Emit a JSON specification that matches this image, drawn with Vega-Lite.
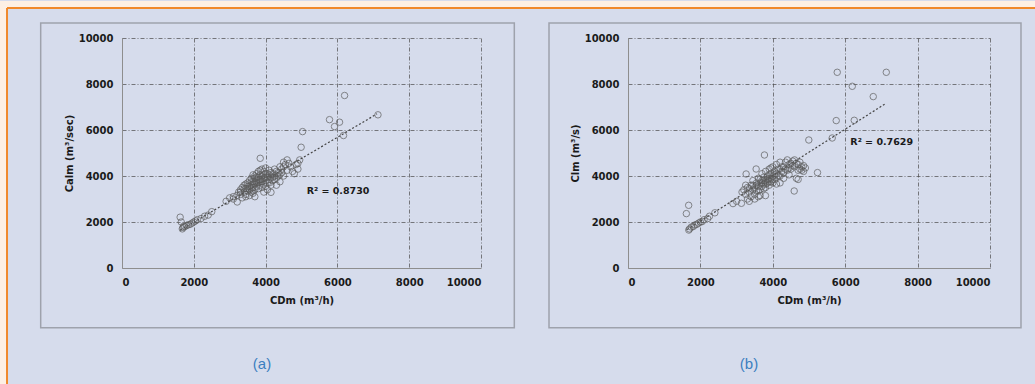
{
  "$schema": "https://vega.github.io/schema/vega-lite/v6.json",
  "background": "#d6dcec",
  "padding": 0,
  "spacing": 147,
  "bounds": "flush",
  "datasets": {
    "a": [
      {"x":1620,"y":2210},{"x":1650,"y":2000},{"x":1680,"y":1700},{"x":1700,"y":1760},{"x":1720,"y":1820},{"x":1750,"y":1800},{"x":1800,"y":1850},{"x":1850,"y":1880},{"x":1900,"y":1900},{"x":1950,"y":1950},{"x":2000,"y":2000},{"x":2050,"y":2050},{"x":2100,"y":2100},{"x":2200,"y":2150},{"x":2300,"y":2250},{"x":2400,"y":2300},{"x":2500,"y":2450},
      {"x":2900,"y":2900},{"x":3000,"y":3050},{"x":3100,"y":3000},{"x":3210,"y":2870},{"x":3100,"y":3100},
      {"x":3200,"y":3150},{"x":3250,"y":3300},{"x":3300,"y":3400},{"x":3300,"y":3200},{"x":3350,"y":3500},{"x":3400,"y":3300},{"x":3400,"y":3600},{"x":3450,"y":3450},{"x":3450,"y":3200},{"x":3500,"y":3550},{"x":3500,"y":3350},{"x":3500,"y":3700},{"x":3550,"y":3400},{"x":3550,"y":3800},{"x":3600,"y":3600},{"x":3600,"y":3300},{"x":3600,"y":3900},{"x":3650,"y":3500},{"x":3650,"y":3750},{"x":3650,"y":4050},{"x":3700,"y":3650},{"x":3700,"y":3400},{"x":3700,"y":3900},{"x":3750,"y":3800},{"x":3750,"y":3550},{"x":3750,"y":4100},{"x":3800,"y":3700},{"x":3800,"y":3950},{"x":3800,"y":3450},{"x":3800,"y":4200},{"x":3850,"y":3850},{"x":3850,"y":3600},{"x":3850,"y":4050},{"x":3900,"y":3750},{"x":3900,"y":4000},{"x":3900,"y":3500},{"x":3900,"y":4300},{"x":3950,"y":3900},{"x":3950,"y":3650},{"x":4000,"y":4100},{"x":4000,"y":3800},{"x":4000,"y":3550},{"x":4000,"y":4350},{"x":4050,"y":3950},{"x":4050,"y":3700},{"x":4100,"y":4050},{"x":4100,"y":3850},{"x":4100,"y":4250},{"x":4150,"y":3950},{"x":4150,"y":3600},{"x":4200,"y":4100},{"x":4200,"y":3800},{"x":4250,"y":4000},{"x":4250,"y":4300},{"x":4300,"y":3900},{"x":4350,"y":4150},{"x":4400,"y":3750},{"x":4400,"y":4050},{"x":4450,"y":4300},{"x":4500,"y":4000},{"x":4550,"y":4500},{"x":4600,"y":4250},{"x":3350,"y":3050},{"x":3450,"y":3100},{"x":3550,"y":3150},{"x":3650,"y":3250},{"x":3700,"y":3100},{"x":4050,"y":3400},{"x":3950,"y":3300},
      {"x":3550,"y":3550},{"x":3600,"y":3750},{"x":3650,"y":3650},{"x":3700,"y":3750},{"x":3750,"y":3700},{"x":3800,"y":3850},{"x":3850,"y":3750},{"x":3900,"y":3850},{"x":3950,"y":4050},{"x":4000,"y":3950},{"x":4050,"y":4100},{"x":3750,"y":3950},{"x":3700,"y":4000},{"x":3600,"y":3450},{"x":3500,"y":3450},{"x":3450,"y":3650},{"x":4150,"y":4150},{"x":4200,"y":3950},{"x":4300,"y":4200},{"x":4350,"y":4000},{"x":4450,"y":4150},{"x":3850,"y":4250},{"x":3950,"y":4200},{"x":4100,"y":3700},{"x":3650,"y":3350},{"x":3400,"y":3450},{"x":3300,"y":3300},{"x":4250,"y":3850},{"x":4500,"y":4400},{"x":4650,"y":4550},
      {"x":3850,"y":4770},{"x":4150,"y":3290},{"x":4300,"y":3600},
      {"x":4400,"y":4400},{"x":4500,"y":4600},{"x":4600,"y":4700},{"x":4700,"y":4400},{"x":4800,"y":4100},{"x":4850,"y":4500},{"x":4900,"y":4300},{"x":4950,"y":4700},{"x":4750,"y":4200},{"x":4900,"y":4550},
      {"x":4990,"y":5250},{"x":5030,"y":5930},{"x":5780,"y":6450},{"x":5920,"y":6150},{"x":6060,"y":6340},{"x":6200,"y":7500},{"x":6170,"y":5760},{"x":7130,"y":6660}
    ],
    "fitA": [{"x":1616,"y":1636},{"x":7103,"y":6701}],
    "b": [
      {"x":1676,"y":2726},{"x":1612,"y":2365},
      {"x":1680,"y":1650},{"x":1700,"y":1700},{"x":1750,"y":1780},{"x":1800,"y":1800},{"x":1850,"y":1870},{"x":1900,"y":1900},{"x":1950,"y":1950},{"x":2000,"y":2000},{"x":2050,"y":2020},{"x":2100,"y":2100},{"x":2200,"y":2150},{"x":2250,"y":2250},{"x":2400,"y":2400},
      {"x":2900,"y":2800},{"x":3000,"y":2900},{"x":3133,"y":2813},{"x":3263,"y":4087},{"x":3540,"y":4304},{"x":3797,"y":3148},
      {"x":3200,"y":3400},{"x":3250,"y":3200},{"x":3300,"y":3500},{"x":3300,"y":3000},{"x":3350,"y":3300},{"x":3400,"y":3600},{"x":3400,"y":3100},{"x":3450,"y":3400},{"x":3450,"y":3800},{"x":3500,"y":3500},{"x":3500,"y":3200},{"x":3550,"y":3700},{"x":3550,"y":3350},{"x":3600,"y":3900},{"x":3600,"y":3550},{"x":3600,"y":3100},{"x":3650,"y":3700},{"x":3650,"y":3400},{"x":3700,"y":3800},{"x":3700,"y":3550},{"x":3700,"y":4100},{"x":3750,"y":3650},{"x":3750,"y":3950},{"x":3800,"y":3800},{"x":3800,"y":3500},{"x":3800,"y":4200},{"x":3850,"y":3700},{"x":3850,"y":4000},{"x":3900,"y":3900},{"x":3900,"y":3600},{"x":3900,"y":4300},{"x":3950,"y":4100},{"x":3950,"y":3750},{"x":4000,"y":4000},{"x":4000,"y":3700},{"x":4000,"y":4400},{"x":4050,"y":4200},{"x":4050,"y":3850},{"x":4100,"y":4100},{"x":4100,"y":4500},{"x":4100,"y":3650},{"x":4150,"y":4300},{"x":4200,"y":4000},{"x":4200,"y":4600},{"x":4250,"y":4200},{"x":4300,"y":4400},{"x":4300,"y":3900},{"x":4350,"y":4600},{"x":4400,"y":4250},{"x":4450,"y":4500},{"x":4500,"y":4300},{"x":4550,"y":4650},{"x":4600,"y":4400},{"x":4650,"y":3900},{"x":4700,"y":4500},{"x":4750,"y":4300},{"x":4800,"y":4400},{"x":4850,"y":4200},{"x":4900,"y":4350},{"x":4600,"y":4700},{"x":4400,"y":4700},{"x":3350,"y":2900},{"x":3500,"y":3000},{"x":3650,"y":3150},{"x":3250,"y":3600},{"x":3150,"y":3300},{"x":4200,"y":3700},{"x":4450,"y":4050},{"x":4700,"y":3850},
      {"x":3550,"y":3600},{"x":3650,"y":3850},{"x":3700,"y":3700},{"x":3750,"y":3800},{"x":3800,"y":3650},{"x":3850,"y":3850},{"x":3900,"y":4050},{"x":3950,"y":3900},{"x":4000,"y":3850},{"x":4050,"y":4050},{"x":4150,"y":4000},{"x":4250,"y":4400},{"x":4350,"y":4300},{"x":4450,"y":4350},{"x":4550,"y":4450},{"x":4650,"y":4550},{"x":4750,"y":4600},{"x":4800,"y":4250},{"x":3450,"y":3600},{"x":3350,"y":3450},{"x":3600,"y":3350},{"x":3750,"y":3450},{"x":3900,"y":3750},{"x":4100,"y":3950},{"x":4300,"y":4150},{"x":4500,"y":4550},{"x":4700,"y":4250},{"x":4850,"y":4450},{"x":4200,"y":4300},{"x":3950,"y":4350},
      {"x":3769,"y":4913},{"x":4591,"y":3348},{"x":5235,"y":4148},{"x":4995,"y":5565},{"x":5641,"y":5652},{"x":5752,"y":6409},{"x":6250,"y":6422},{"x":5780,"y":8509},{"x":7135,"y":8509},{"x":6195,"y":7900},{"x":6775,"y":7452}
    ],
    "fitB": [{"x":1631,"y":1670},{"x":7097,"y":7130}]
  },
  "hconcat": [
    {
      "width": 359,
      "height": 230,
      "layer": [
        {
          "data": {"values": [{}]},
          "mark": {"type": "rect", "fill": "#fdf0e4", "strokeWidth": 0},
          "encoding": {
            "x": {"datum": -3398, "type": "quantitative", "scale": {"domain": [0, 10000], "nice": false, "zero": false},
                  "axis": {"title": "CDm (m³/h)", "values": [0, 2000, 4000, 6000, 8000, 10000], "format": "d"}},
            "x2": {"datum": 25432},
            "y": {"datum": 11609, "type": "quantitative", "scale": {"domain": [0, 10000], "nice": false, "zero": false},
                  "axis": {"title": "Calm (m³/sec)", "values": [0, 2000, 4000, 6000, 8000, 10000], "format": "d"}},
            "y2": {"datum": 11304}
          }
        },
        {
          "data": {"values": [{}]},
          "mark": {"type": "rect", "fill": "#fdf0e4", "strokeWidth": 0},
          "encoding": {
            "x": {"datum": -3398, "type": "quantitative"},
            "x2": {"datum": -3203},
            "y": {"datum": 11304, "type": "quantitative"},
            "y2": {"datum": -5087}
          }
        },
        {
          "data": {"values": [{}]},
          "mark": {"type": "rule", "color": "#f0892b", "strokeWidth": 2},
          "encoding": {
            "x": {"datum": -3203, "type": "quantitative"},
            "x2": {"datum": 25432},
            "y": {"datum": 11304, "type": "quantitative"}
          }
        },
        {
          "data": {"values": [{}]},
          "mark": {"type": "rule", "color": "#f0892b", "strokeWidth": 2},
          "encoding": {
            "x": {"datum": -3203, "type": "quantitative"},
            "y": {"datum": 11304, "type": "quantitative"},
            "y2": {"datum": -5087}
          }
        },
        {
          "data": {"values": [{}]},
          "mark": {"type": "rect", "fill": "transparent", "stroke": "#9ea2ac", "strokeWidth": 1.5},
          "encoding": {
            "x": {"datum": -2265, "type": "quantitative"},
            "x2": {"datum": 10928},
            "y": {"datum": 10652, "type": "quantitative"},
            "y2": {"datum": -2596}
          }
        },
        {
          "data": {"name": "fitA"},
          "mark": {"type": "line", "color": "#444444", "strokeWidth": 1.2, "strokeDash": [2, 2]},
          "encoding": {
            "x": {"field": "x", "type": "quantitative"},
            "y": {"field": "y", "type": "quantitative"}
          }
        },
        {
          "data": {"name": "a"},
          "mark": {"type": "point", "shape": "circle", "filled": false, "stroke": "#5c5c5c", "strokeWidth": 1, "size": 42},
          "encoding": {
            "x": {"field": "x", "type": "quantitative"},
            "y": {"field": "y", "type": "quantitative"}
          }
        },
        {
          "data": {"values": [{}]},
          "mark": {"type": "text", "font": "DejaVu Sans", "fontWeight": "bold", "fontSize": 9.5, "color": "#1a1a1a"},
          "encoding": {
            "x": {"datum": 6017, "type": "quantitative"},
            "y": {"datum": 3348, "type": "quantitative"},
            "text": {"value": "R² = 0.8730"}
          }
        },
        {
          "data": {"values": [{}]},
          "mark": {"type": "text", "font": "Liberation Sans", "fontSize": 15, "color": "#3b7fc0"},
          "encoding": {
            "x": {"datum": 3900, "type": "quantitative"},
            "y": {"datum": -4174, "type": "quantitative"},
            "text": {"value": "(a)"}
          }
        }
      ]
    },
    {
      "width": 362,
      "height": 230,
      "layer": [
        {
          "data": {"values": [{}]},
          "mark": {"type": "rect", "fill": "transparent", "stroke": "#9ea2ac", "strokeWidth": 1.5},
          "encoding": {
            "x": {"datum": -2182, "type": "quantitative", "scale": {"domain": [0, 10000], "nice": false, "zero": false},
                  "axis": {"title": "CDm (m³/h)", "values": [0, 2000, 4000, 6000, 8000, 10000], "format": "d"}},
            "x2": {"datum": 10856},
            "y": {"datum": 10652, "type": "quantitative", "scale": {"domain": [0, 10000], "nice": false, "zero": false},
                  "axis": {"title": "Clm (m³/s)", "values": [0, 2000, 4000, 6000, 8000, 10000], "format": "d"}},
            "y2": {"datum": -2596}
          }
        },
        {
          "data": {"name": "fitB"},
          "mark": {"type": "line", "color": "#444444", "strokeWidth": 1.2, "strokeDash": [2, 2]},
          "encoding": {
            "x": {"field": "x", "type": "quantitative"},
            "y": {"field": "y", "type": "quantitative"}
          }
        },
        {
          "data": {"name": "b"},
          "mark": {"type": "point", "shape": "circle", "filled": false, "stroke": "#5c5c5c", "strokeWidth": 1, "size": 42},
          "encoding": {
            "x": {"field": "x", "type": "quantitative"},
            "y": {"field": "y", "type": "quantitative"}
          }
        },
        {
          "data": {"values": [{}]},
          "mark": {"type": "text", "font": "DejaVu Sans", "fontWeight": "bold", "fontSize": 9.5, "color": "#1a1a1a"},
          "encoding": {
            "x": {"datum": 7008, "type": "quantitative"},
            "y": {"datum": 5478, "type": "quantitative"},
            "text": {"value": "R² = 0.7629"}
          }
        },
        {
          "data": {"values": [{}]},
          "mark": {"type": "text", "font": "Liberation Sans", "fontSize": 15, "color": "#3b7fc0"},
          "encoding": {
            "x": {"datum": 3343, "type": "quantitative"},
            "y": {"datum": -4174, "type": "quantitative"},
            "text": {"value": "(b)"}
          }
        }
      ]
    }
  ],
  "config": {
    "view": {"stroke": null},
    "axis": {
      "labelFont": "DejaVu Sans",
      "labelFontWeight": "bold",
      "labelFontSize": 10,
      "labelColor": "#1a1a1a",
      "labelPadding": 9,
      "titleFont": "DejaVu Sans",
      "titleFontWeight": "bold",
      "titleFontSize": 10,
      "titleColor": "#1a1a1a",
      "ticks": false,
      "domainColor": "#8e8e8e",
      "domainWidth": 1,
      "grid": true,
      "gridColor": "#4d4d4d",
      "gridOpacity": 0.9,
      "gridWidth": 0.8,
      "gridDash": [4, 2, 1, 2]
    },
    "axisX": {"titlePadding": 8},
    "axisY": {"titlePadding": 4}
  }
}
